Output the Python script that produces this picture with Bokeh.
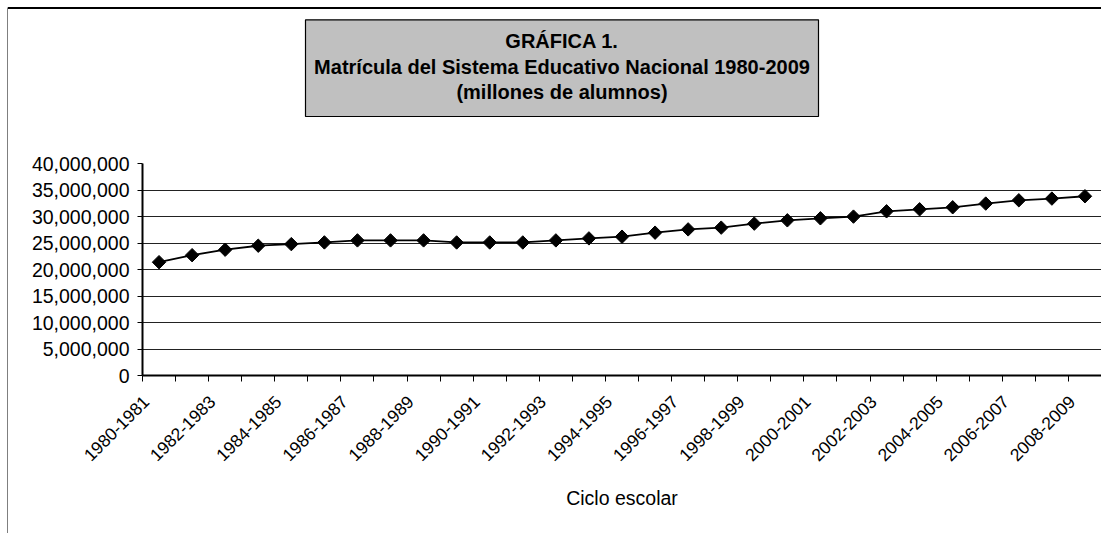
import math
from bokeh.plotting import figure
from bokeh.layouts import row, column
from bokeh.models import (Range1d, FixedTicker, NumeralTickFormatter,
                          ColumnDataSource, Spacer)
from bokeh.core.properties import value
from bokeh.embed import file_html
from bokeh.resources import INLINE

ciclos = [f"{y}-{y+1}" for y in range(1980, 2009)]
matricula = [21380000, 22700000, 23730000, 24490000, 24790000, 25110000,
             25490000, 25490000, 25490000, 25100000, 25100000, 25100000,
             25490000, 25870000, 26190000, 26950000, 27570000, 27900000,
             28650000, 29280000, 29660000, 29980000, 30980000, 31360000,
             31740000, 32440000, 33060000, 33380000, 33820000]
y_ticks = [0, 5000000, 10000000, 15000000, 20000000, 25000000,
           30000000, 35000000, 40000000]
titulo = ["GRÁFICA 1.", "Matrícula del Sistema Educativo Nacional 1980-2009",
          "(millones de alumnos)"]
eje_x = "Ciclo escolar"

FONT = "Liberation Sans"
OFF = 7            # offset of the outer chart border
BW = 2             # top border thickness
WC = 1093          # width of the chart column
HT = 119           # height of the title area
HM = 405           # height of the main chart
LEFT = 134         # left panel width of the main chart


def solid_strip(w, h):
    s = figure(width=w, height=h, output_backend="svg", toolbar_location=None,
               min_border=0, x_axis_location=None, y_axis_location=None)
    s.outline_line_color = None
    s.background_fill_color = "black"
    s.border_fill_color = "black"
    s.grid.visible = False
    return s


vstrip = solid_strip(1, BW + HT + HM)
hstrip = Spacer(width=WC, height=BW, styles={"background-color": "black"})

# ---- title area (frame in page pixel coordinates) ----
x0 = OFF + 1 + LEFT
y0 = OFF + BW
top = figure(width=WC, height=HT, output_backend="svg", toolbar_location=None,
             x_range=Range1d(x0, OFF + 1 + WC), y_range=Range1d(y0 + HT, y0),
             min_border_left=LEFT, min_border_right=0, min_border_top=0,
             min_border_bottom=0, x_axis_location=None, y_axis_location=None)
top.outline_line_color = None
top.grid.visible = False
top.quad(left=[305], right=[818], top=[19.3], bottom=[116],
         fill_color="#c0c0c0", line_color="black", line_width=1.2)
top.text(x=[561.5, 561.5, 561.5], y=[40, 66.5, 91.5], text=titulo,
         text_align="center", text_baseline="alphabetic",
         text_font=value(FONT), text_font_style="bold",
         text_font_size="20px", text_color="black")

# ---- main chart ----
idx = list(range(len(ciclos)))
src = ColumnDataSource(dict(x=idx, y=matricula, c=ciclos))

p = figure(width=WC, height=HM, output_backend="svg", toolbar_location=None,
           x_range=Range1d(-0.5, len(ciclos) - 0.5), y_range=Range1d(0, 40000000),
           min_border_left=LEFT, min_border_right=0, min_border_top=35,
           min_border_bottom=158)
p.outline_line_color = None
p.background_fill_color = "white"
p.border_fill_color = "white"

p.line("x", "y", source=src, line_color="black", line_width=1.8)
p.scatter("x", "y", source=src, marker="square", size=9.5, angle=math.pi / 4,
          fill_color="black", line_color="black")

p.yaxis.ticker = FixedTicker(ticks=y_ticks)
p.yaxis.formatter = NumeralTickFormatter(format="0,0")
p.yaxis.axis_line_width = 2
p.yaxis.axis_line_color = "black"
p.yaxis.major_tick_out = 5
p.yaxis.major_tick_in = 0
p.yaxis.minor_tick_line_color = None
p.yaxis.major_label_text_font = FONT
p.yaxis.major_label_text_font_size = "19.5px"
p.yaxis.major_label_text_color = "black"
p.yaxis.major_label_standoff = 8

shift = 0.4
lab_pos = [i - shift for i in idx[::2]]
p.xaxis.ticker = FixedTicker(ticks=lab_pos,
                             minor_ticks=[i - 0.5 for i in range(len(ciclos) + 1)])
p.xaxis.major_label_overrides = {pos: ciclos[i] for pos, i in zip(lab_pos, idx[::2])}
p.xaxis.major_label_orientation = math.pi / 4
p.xaxis.axis_line_width = 2
p.xaxis.axis_line_color = "black"
p.xaxis.major_tick_out = 0
p.xaxis.major_tick_in = 0
p.xaxis.major_tick_line_color = None
p.xaxis.minor_tick_out = 6
p.xaxis.minor_tick_in = 0
p.xaxis.minor_tick_line_color = "black"
p.xaxis.major_label_text_font = FONT
p.xaxis.major_label_text_font_size = "17.5px"
p.xaxis.major_label_text_color = "black"
p.xaxis.major_label_standoff = 17
p.xaxis.axis_label = eje_x
p.xaxis.axis_label_text_font = FONT
p.xaxis.axis_label_text_font_style = "normal"
p.xaxis.axis_label_text_font_size = "19.5px"
p.xaxis.axis_label_text_color = "black"
p.xaxis.axis_label_standoff = 17

p.xgrid.grid_line_color = None
p.ygrid.ticker = FixedTicker(ticks=y_ticks)
p.ygrid.grid_line_color = "#222222"
p.ygrid.grid_line_width = 1

inner = row(vstrip, column(hstrip, top, p, spacing=0), spacing=0)
layout = row(Spacer(width=OFF, height=OFF + BW + HT + HM),
             column(Spacer(width=1 + WC, height=OFF), inner, spacing=0),
             spacing=0)
open("out.html", "w").write(file_html(layout, INLINE))
